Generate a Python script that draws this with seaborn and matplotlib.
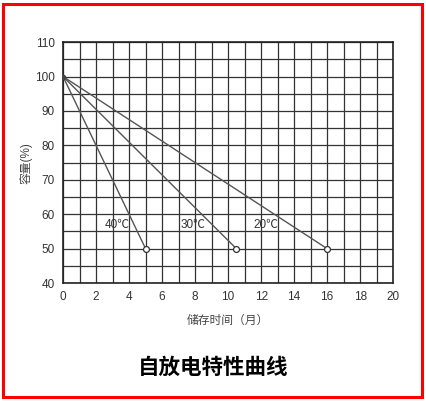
import numpy as np
import pandas as pd
import matplotlib
matplotlib.use("Agg")
import matplotlib.pyplot as plt
import seaborn as sns
from matplotlib.patches import Rectangle

temps = ["40℃", "30℃", "20℃"]
months_40 = [0, 5]
months_30 = [0, 10.5]
months_20 = [0, 16]
capacity = [100, 50]
label_pos = {"40℃": (3.3, 57), "30℃": (7.9, 57), "20℃": (12.3, 57)}

df = pd.DataFrame({
    "month": months_40 + months_30 + months_20,
    "cap": capacity * 3,
    "temp": [t for t in temps for _ in range(2)],
})

sns.set_style("white")
plt.rcParams['font.family'] = ['Liberation Sans', 'Noto Sans CJK SC', 'DejaVu Sans']

fig = plt.figure(figsize=(4.26, 4.01), dpi=100)
ax = fig.add_axes([0.148, 0.294, 0.775, 0.601])

sns.lineplot(data=df, x="month", y="cap", hue="temp", palette=["#555555"] * 3,
             legend=False, ax=ax, linewidth=1.0, zorder=3)
ends = df[df["cap"] == 50]
sns.scatterplot(data=ends, x="month", y="cap", ax=ax, s=18, facecolor="white",
                edgecolor="#333333", linewidth=0.9, zorder=4, legend=False)
ax.plot([0], [100], "o", ms=3, color="#444444", zorder=4)

for t, (x, y) in label_pos.items():
    ax.text(x, y, t, ha="center", va="center", fontsize=8.5, color="#333333")

ax.set_xlim(0, 20)
ax.set_ylim(40, 110)
ax.set_xticks(np.arange(0, 21, 2))
ax.set_yticks(np.arange(40, 111, 10))
ax.set_xticks(np.arange(0, 21, 1), minor=True)
ax.set_yticks(np.arange(40, 111, 5), minor=True)
ax.grid(True, which="both", color="#333333", linewidth=0.9)
ax.tick_params(which="both", length=0, labelsize=8.5, labelcolor="#333333", pad=6)
for s in ax.spines.values():
    s.set_color("#222222")
    s.set_linewidth(1.2)

ax.set_xlabel("储存时间（月）", fontsize=8.5, color="#444444", labelpad=8)
ax.set_ylabel("容量(%)", fontsize=8.5, color="#444444", labelpad=2)

fig.text(0.5, 0.082, "自放电特性曲线", ha="center", va="center",
         fontsize=15.5, fontweight="bold", color="black")

fig.patches.append(Rectangle((0.006, 0.01), 0.984, 0.98, transform=fig.transFigure,
                             fill=False, edgecolor="red", linewidth=2.2))

fig.savefig("out.png", dpi=100)
